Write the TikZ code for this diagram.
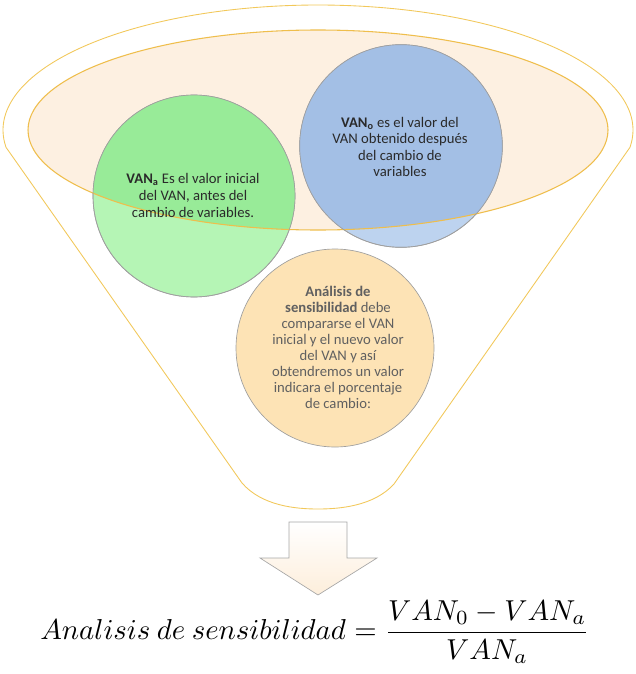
\documentclass[tikz,border=0pt]{standalone}
\usepackage{fontspec}
\setmainfont{Carlito}
\usepackage{amsmath}
\usetikzlibrary{shapes.geometric}
\definecolor{funnelc}{HTML}{F2C85A}
\definecolor{ellfill}{HTML}{FDF0E1}
\definecolor{ellline}{HTML}{EFBE4C}
\definecolor{greenL}{HTML}{B5F5B5}
\definecolor{greenD}{HTML}{98EB98}
\definecolor{blueL}{HTML}{BDD3EF}
\definecolor{blueD}{HTML}{A3BFE5}
\definecolor{orangeC}{HTML}{FDE3B5}
\definecolor{txtdark}{HTML}{2A2A2A}
\definecolor{txtgray}{HTML}{606060}
\definecolor{arrowfill}{HTML}{FDEEDB}
\tikzset{
  bubble/.style={circle, draw=gray!75, line width=0.5pt, align=center, inner sep=0pt,
    font=\fontsize{11pt}{12.6pt}\selectfont},
}
\begin{document}
\begin{tikzpicture}[x=0.75pt,y=-0.75pt]
\useasboundingbox (0,0) rectangle (635,674);
% funnel outline
\draw[funnelc, line width=0.65pt, fill=white]
  plot[domain=-8:188, samples=150] ({318+315*cos(\x)},{130-125*sin(\x)})
  -- (242,483) .. controls (262,506) and (296,509) .. (318,509)
  .. controls (340,509) and (374,506) .. (394,484) -- cycle;
% inner ellipse fill
\node[ellipse, fill=ellfill, minimum width=435pt, minimum height=150pt, inner sep=0pt] (ell) at (318,130) {};
% circles (light)
\node[bubble, fill=greenL, minimum size=151.5pt, text=txtdark] (g) at (194,196) {};
\node[bubble, fill=blueL, minimum size=152pt, text=txtdark] (b) at (401,146) {};
\node[bubble, fill=orangeC, minimum size=148.5pt] (o) at (335,348) {};
% darker parts inside the ellipse
\begin{scope}
  \clip (ell.center) ellipse [x radius=217.5pt, y radius=75pt];
  \fill[greenD] (g.center) circle [radius=75.75pt];
  \fill[blueD] (b.center) circle [radius=76pt];
\end{scope}
% outlines
\draw[ellline, line width=0.8pt] (ell.center) ellipse [x radius=217.5pt, y radius=75pt];
\draw[gray!75, line width=0.5pt] (g.center) circle [radius=75.75pt];
\draw[gray!75, line width=0.5pt] (b.center) circle [radius=76pt];
% texts
\node[align=center, text=txtdark, font=\fontsize{11pt}{12.75pt}\selectfont] (gt) at (193,195)
  {\textbf{VAN\textsubscript{a}} Es el valor inicial\\ del VAN, antes del\\ cambio de variables.};
\node[align=center, text=txtdark, font=\fontsize{11pt}{12.3pt}\selectfont] (bt) at (400,147)
  {\textbf{VAN\textsubscript{o}} es el valor del\\ VAN obtenido después\\ del cambio de\\ variables};
\node[align=center, text=txtgray, font=\fontsize{11pt}{12pt}\selectfont] (ot) at (338,347)
  {\textbf{Análisis de}\\ \textbf{sensibilidad} debe\\ compararse el VAN\\ inicial y el nuevo valor\\ del VAN y así\\ obtendremos un valor\\ indicara el porcentaje\\ de cambio:};
% down arrow
\shade[top color=white, bottom color=arrowfill, draw=gray!70, line width=0.5pt]
  (289,522) -- (347,522) -- (347,558) -- (377,558) -- (318,595) -- (260,558) -- (289,558) -- cycle;
% formula
\node[anchor=center, inner sep=0pt] (f) at (315,632)
  {\resizebox{412pt}{!}{$\displaystyle Analisis\ de\ sensibilidad=\frac{VAN_0-VAN_a}{VAN_a}$}};
\end{tikzpicture}
\end{document}
